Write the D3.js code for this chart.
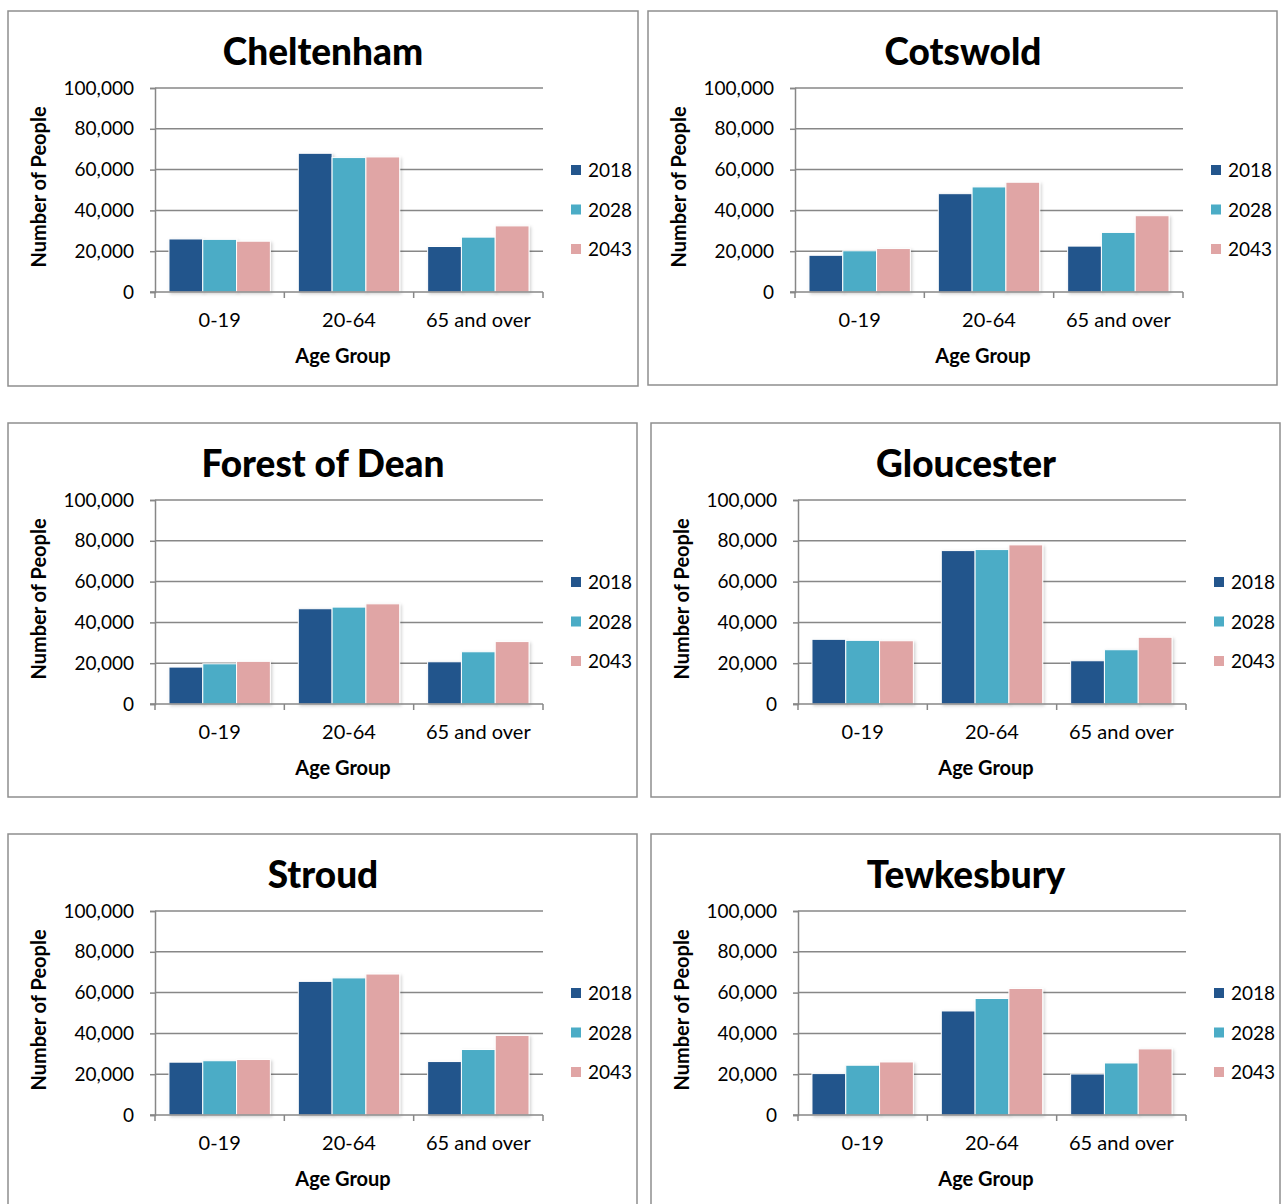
<!DOCTYPE html>
<html>
<head>
<meta charset="utf-8">
<script src="https://cdn.jsdelivr.net/npm/d3@7"></script>
<style>
  body { margin: 0; background: #fff; }
  svg { display: block; font-family: Lato, "Open Sans", sans-serif; }
</style>
</head>
<body>
<div id="chart"></div>
<script>
// data (rows = age groups, columns = years)
var districts = ["Cheltenham", "Cotswold", "Forest of Dean", "Gloucester", "Stroud", "Tewkesbury"];
var ageGroups = ["0-19", "20-64", "65 and over"];
var years = ["2018", "2028", "2043"];
var yTicks = [0, 20000, 40000, 60000, 80000, 100000];

var cheltenham = [[26000, 25800, 24900], [68000, 65900, 66200], [22300, 26900, 32400]];
var cotswold = [[18000, 20200, 21300], [48200, 51500, 53800], [22500, 29200, 37400]];
var forestOfDean = [[18100, 19700, 20900], [46700, 47500, 49100], [20700, 25600, 30600]];
var gloucester = [[31700, 31200, 31000], [75200, 75700, 78000], [21200, 26600, 32700]];
var stroud = [[25900, 26600, 27200], [65500, 67200, 69100], [26200, 32100, 39000]];
var tewkesbury = [[20300, 24400, 26000], [51000, 57100, 62000], [20100, 25500, 32400]];

var seriesByDistrict = [cheltenham, cotswold, forestOfDean, gloucester, stroud, tewkesbury];
var colors = ["#23558c", "#4bacc6", "#e0a5a5"];

(() => {
    var width = 1284;
    var height = 1204;

    var svg = d3.select("#chart")
        .append("svg")
        .attr("width", width)
        .attr("height", height);

    // soft shadow under the bars
    var defs = svg.append("defs");
    var f = defs.append("filter")
        .attr("id", "shadow")
        .attr("x", "-20%").attr("y", "-20%")
        .attr("width", "140%").attr("height", "140%");
    f.append("feDropShadow")
        .attr("dx", 1.5).attr("dy", 1.5)
        .attr("stdDeviation", 1.5)
        .attr("flood-color", "#000")
        .attr("flood-opacity", 0.18);

    var panelX = [8, 648, 8, 651, 8, 651];
    var panelY = [11, 11, 423, 423, 834, 834];
    var panelW = [630, 629, 629, 629, 629, 629];
    var panelH = [375, 374, 374, 374, 375, 375];

    var plotLeft = 147, plotTop = 77, plotW = 388, plotH = 204;

    var yScale = d3.scaleLinear().domain([0, 100000]).range([plotH, 0]);
    var x0 = d3.scaleBand().domain(ageGroups).range([0, plotW]);
    var x1 = d3.scaleBand().domain(years)
        .range([x0.bandwidth() * 0.108, x0.bandwidth() * 0.892]);

    districts.forEach(function (name, i) {
        var data = seriesByDistrict[i];
        var g = svg.append("g")
            .attr("transform", "translate(" + panelX[i] + "," + panelY[i] + ")");

        g.append("rect")
            .attr("x", 0).attr("y", 0)
            .attr("width", panelW[i]).attr("height", panelH[i])
            .attr("fill", "#fff")
            .attr("stroke", "#8e8e8e")
            .attr("stroke-width", 1.5);

        g.append("text")
            .attr("x", 315)
            .attr("y", 54)
            .attr("text-anchor", "middle")
            .attr("font-size", "37px")
            .attr("font-weight", "900")
            .attr("fill", "#000")
            .text(name);

        var plot = g.append("g")
            .attr("transform", "translate(" + plotLeft + "," + plotTop + ")");

        // gridlines
        plot.selectAll(".grid")
            .data(yTicks.slice(1))
            .join("line")
            .attr("x1", 0).attr("x2", plotW)
            .attr("y1", d => yScale(d)).attr("y2", d => yScale(d))
            .attr("stroke", "#878787")
            .attr("stroke-width", 1.5);

        // bars
        var groups = plot.selectAll(".age")
            .data(ageGroups)
            .join("g")
            .attr("transform", d => "translate(" + x0(d) + ",0)");

        groups.selectAll("rect")
            .data((d, gi) => years.map((y, k) => ({ year: y, value: data[gi][k], k: k })))
            .join("rect")
            .attr("x", d => x1(d.year))
            .attr("y", d => yScale(d.value))
            .attr("width", x1.bandwidth())
            .attr("height", d => plotH - yScale(d.value))
            .attr("fill", d => colors[d.k])
            .attr("stroke", "#fff")
            .attr("stroke-width", 1)
            .attr("filter", "url(#shadow)");

        // y axis
        var yAxis = d3.axisLeft(yScale)
            .tickValues(yTicks)
            .tickSize(5)
            .tickFormat(d3.format(","));
        var ya = plot.append("g").call(yAxis);
        ya.select(".domain").attr("stroke", "#878787").attr("stroke-width", 1.5);
        ya.selectAll(".tick line").attr("stroke", "#878787").attr("stroke-width", 1.5);
        ya.selectAll(".tick text")
            .attr("font-size", "19px")
            .attr("font-family", "Lato, sans-serif")
            .attr("fill", "#000")
            .attr("x", -21);

        // x axis
        var xa = plot.append("g").attr("transform", "translate(0," + plotH + ")");
        xa.append("line")
            .attr("x1", -5).attr("x2", plotW)
            .attr("stroke", "#878787").attr("stroke-width", 1.5);
        xa.selectAll(".xtick")
            .data([0, plotW / 3, plotW * 2 / 3, plotW])
            .join("line")
            .attr("x1", d => d).attr("x2", d => d)
            .attr("y1", 0).attr("y2", 6)
            .attr("stroke", "#878787").attr("stroke-width", 1.5);
        xa.selectAll(".xlabel")
            .data(ageGroups)
            .join("text")
            .attr("x", d => x0(d) + x0.bandwidth() / 2)
            .attr("y", 35)
            .attr("text-anchor", "middle")
            .attr("font-size", "20px")
            .attr("fill", "#000")
            .text(d => d);

        g.append("text")
            .attr("x", plotLeft + plotW / 2 - 6)
            .attr("y", 352)
            .attr("text-anchor", "middle")
            .attr("font-size", "20px")
            .attr("font-weight", "bold")
            .text("Age Group");

        g.append("text")
            .attr("transform", "translate(38,176) rotate(-90)")
            .attr("text-anchor", "middle")
            .attr("font-size", "20px")
            .attr("font-weight", "bold")
            .text("Number of People");

        // legend
        var leg = g.selectAll(".legend")
            .data(years)
            .join("g")
            .attr("transform", (d, k) => "translate(563," + (159 + k * 39.5) + ")");
        leg.append("rect")
            .attr("x", 0).attr("y", -5)
            .attr("width", 10).attr("height", 10)
            .attr("fill", (d, k) => colors[k]);
        leg.append("text")
            .attr("x", 17)
            .attr("y", 7)
            .attr("font-size", "19px")
            .text(d => d);
    });
})();
</script>
</body>
</html>
